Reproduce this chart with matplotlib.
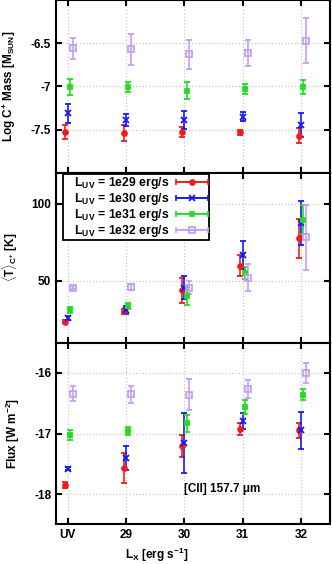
import matplotlib
matplotlib.use('Agg')
import matplotlib.pyplot as plt
from matplotlib.lines import Line2D
from matplotlib.collections import LineCollection
from matplotlib.container import ErrorbarContainer
from matplotlib.legend_handler import HandlerErrorbar

plt.rcParams['font.family'] = ['Liberation Sans', 'DejaVu Sans']
plt.rcParams['font.weight'] = 'bold'
plt.rcParams['mathtext.fontset'] = 'custom'
plt.rcParams['mathtext.rm'] = 'Liberation Sans:bold'
plt.rcParams['mathtext.it'] = 'Liberation Sans:bold'
plt.rcParams['mathtext.bf'] = 'Liberation Sans:bold'
plt.rcParams['mathtext.default'] = 'bf'

# x categories (X-ray luminosity)
x_labels = ['UV', '29', '30', '31', '32']
x_pos = [0, 1, 2, 3, 4]

series = ['1e29', '1e30', '1e31', '1e32']

# log C+ mass [M_sun]
mass = {'1e29': [-7.53, -7.54, -7.53, -7.53, -7.57],
        '1e30': [-7.31, -7.39, -7.39, -7.35, -7.45],
        '1e31': [-7.01, -7.01, -7.05, -7.03, -7.01],
        '1e32': [-6.56, -6.57, -6.63, -6.61, -6.47]}
mass_err = {'1e29': [0.08, 0.09, 0.06, 0.03, 0.09],
            '1e30': [0.11, 0.07, 0.10, 0.05, 0.14],
            '1e31': [0.09, 0.06, 0.10, 0.06, 0.08],
            '1e32': [0.12, 0.18, 0.17, 0.15, 0.26]}

# <T>_C+ [K]
temp = {'1e29': [23.6, 30.2, 43.8, 59.9, 77.5],
        '1e30': [26.0, 31.1, 45.7, 66.7, 87.5],
        '1e31': [31.1, 33.7, 40.3, 55.1, 89.7],
        '1e32': [45.5, 46.3, 45.7, 52.1, 78.3]}
temp_err = {'1e29': [1.0, 1.5, 8.3, 6.8, 12.6],
            '1e30': [1.5, 2.5, 7.5, 9.0, 14.5],
            '1e31': [2.0, 2.0, 6.0, 3.7, 9.3],
            '1e32': [1.0, 2.0, 4.5, 8.7, 21.0]}

# log [CII] 157.7 um flux [W m^-2]
flux = {'1e29': [-17.85, -17.57, -17.21, -16.93, -16.95],
        '1e30': [-17.58, -17.41, -17.16, -16.79, -16.95],
        '1e31': [-17.02, -16.96, -16.83, -16.56, -16.36],
        '1e32': [-16.34, -16.35, -16.36, -16.27, -16.00]}
flux_err = {'1e29': [0.05, 0.24, 0.18, 0.10, 0.13],
            '1e30': [0.03, 0.20, 0.50, 0.13, 0.30],
            '1e31': [0.08, 0.07, 0.14, 0.11, 0.09],
            '1e32': [0.12, 0.14, 0.26, 0.15, 0.16]}

# styles
colors = {'1e29': '#f01c1c', '1e30': '#1a1aee', '1e31': '#22dd22', '1e32': '#c3a0f5'}
markers = {'1e29': 'o', '1e30': 'x', '1e31': 's', '1e32': 's'}
msizes = {'1e29': 3.5, '1e30': 4, '1e31': 3.5, '1e32': 4.6}
filled = {'1e29': True, '1e30': True, '1e31': True, '1e32': False}
offsets = {'1e29': -0.04, '1e30': 0.0, '1e31': 0.04, '1e32': 0.085}

fig = plt.figure(figsize=(3.32, 5.64), dpi=100)
left, width = 56 / 332, 274 / 332
ax1 = fig.add_axes([left, 1 - 172.7 / 564, width, 172.7 / 564])
ax2 = fig.add_axes([left, 1 - 342.7 / 564, width, 170 / 564])
ax3 = fig.add_axes([left, 1 - 524.3 / 564, width, 181.6 / 564])


def draw(ax, vals, errs):
    for s in series:
        xs = [x + offsets[s] for x in x_pos]
        ax.errorbar(xs, vals[s], yerr=errs[s], fmt=markers[s], color=colors[s],
                    ms=msizes[s], mew=1.3, mfc=colors[s] if filled[s] else 'none',
                    elinewidth=1.2, capsize=2.4, capthick=1.2, zorder=3)


draw(ax1, mass, mass_err)
draw(ax2, temp, temp_err)
draw(ax3, flux, flux_err)

for ax in (ax1, ax2, ax3):
    ax.set_xlim(-0.2, 4.5)
    ax.set_xticks(x_pos)
    ax.grid(True, color='#c8c8c8', linestyle=':', linewidth=0.9)
    ax.tick_params(direction='in', top=True, right=True, length=4, width=1.5,
                   labelsize=8.5)
    for sp in ax.spines.values():
        sp.set_linewidth(1.5)

ax1.set_xticklabels([])
ax2.set_xticklabels([])
ax3.set_xticklabels(x_labels)

ax1.set_ylim(-8, -6)
ax1.set_yticks([-7.5, -7, -6.5])
ax1.set_yticklabels(['-7.5', '-7', '-6.5'])
ax2.set_ylim(10, 120)
ax2.set_yticks([50, 100])
ax3.set_ylim(-18.5, -15.5)
ax3.set_yticks([-18, -17, -16])
ax3.set_yticklabels(['-18', '-17', '-16'])

ax1.set_ylabel('Log C$^{+}$ Mass [M$_{SUN}$]', fontsize=8.5, fontweight='bold')
ax2.set_ylabel(r'$\langle$T$\rangle_{C^{+}}$ [K]', fontsize=8.5, fontweight='bold')
ax3.set_ylabel('Flux [W m$^{-2}$]', fontsize=8.5, fontweight='bold')
ax1.yaxis.set_label_coords(-0.14, 0.5)
ax2.yaxis.set_label_coords(-0.132, 0.5)
ax3.yaxis.set_label_coords(-0.124, 0.5)

fig.text(157 / 332, 1 - 555 / 564, 'L$_{X}$ [erg s$^{-1}$]', ha='center', va='center',
         fontsize=8.5, fontweight='bold')

ax3.text(2.0, -17.91, '[CII] 157.7 \u03bcm', ha='left', va='center', fontsize=8.5,
         fontweight='bold')

# legend with gnuplot-like horizontal samples
handles = []
for s in series:
    line = Line2D([], [], color=colors[s], marker=markers[s], ms=msizes[s], mew=1.3,
                  mfc=colors[s] if filled[s] else 'none', linestyle='-', linewidth=1.2)
    cap = Line2D([], [], color=colors[s], marker='|', ms=4.6, mew=1.2, linestyle='none')
    bar = LineCollection([], colors=colors[s], linewidths=1.2)
    handles.append(ErrorbarContainer((line, [cap], [bar]), has_xerr=True, has_yerr=False,
                                     label='   L$_{UV}$ = ' + s + ' erg/s'))

leg = ax2.legend(handles=handles, loc='upper left', bbox_to_anchor=(0.026, 0.993),
                 markerfirst=False, fontsize=8.8, frameon=True, fancybox=False,
                 framealpha=1, edgecolor='black', borderpad=0.1, labelspacing=0.0,
                 handlelength=2.6, handletextpad=0.5, borderaxespad=0,
                 handler_map={ErrorbarContainer: HandlerErrorbar(xerr_size=1.3)})
leg.get_frame().set_linewidth(1.3)

fig.savefig('out.png', dpi=100)
